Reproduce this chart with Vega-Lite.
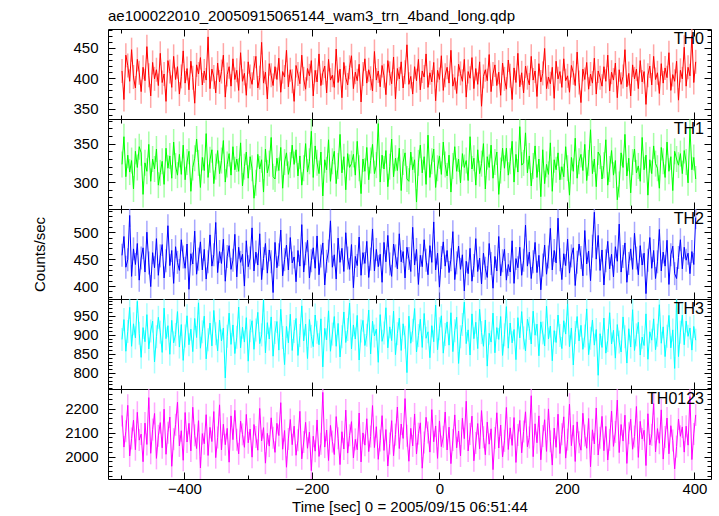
{
"$schema": "https://vega.github.io/schema/vega-lite/v6.json",
"padding": {"left": 32, "top": 8, "right": 9, "bottom": 2},
"spacing": 0,
"bounds": "flush",
"config": {
  "font": "Liberation Sans",
  "view": {"stroke": "black", "strokeWidth": 1},
  "axis": {"domain": false, "grid": false, "tickColor": "black", "tickWidth": 1, "labelColor": "black", "labelFontSize": 15, "labelFont": "Liberation Sans", "titleFont": "Liberation Sans", "titleFontSize": 15, "titleFontWeight": "normal", "titleColor": "black", "labelFlush": false, "labelOverlap": false, "format": "d"},
  "title": {"font": "Liberation Sans", "fontSize": 15, "fontWeight": "normal", "color": "black"}
},
"data": {"values": [
{"t":-498,"a":412,"b":323,"c":457,"d":888,"e":2172},
{"t":-495,"a":365,"b":359,"c":492,"d":940,"e":2040},
{"t":-492,"a":438,"b":307,"c":435,"d":857,"e":2106},
{"t":-489,"a":421,"b":335,"c":449,"d":909,"e":2214},
{"t":-486,"a":395,"b":313,"c":531,"d":972,"e":2003},
{"t":-483,"a":447,"b":328,"c":418,"d":870,"e":2076},
{"t":-480,"a":402,"b":291,"c":469,"d":929,"e":2152},
{"t":-477,"a":384,"b":340,"c":440,"d":892,"e":2029},
{"t":-474,"a":431,"b":319,"c":479,"d":988,"e":2185},
{"t":-471,"a":409,"b":346,"c":411,"d":904,"e":2069},
{"t":-468,"a":378,"b":338,"c":452,"d":841,"e":2094},
{"t":-465,"a":418,"b":284,"c":471,"d":919,"e":1979},
{"t":-462,"a":396,"b":325,"c":426,"d":882,"e":2140},
{"t":-459,"a":452,"b":314,"c":500,"d":953,"e":2051},
{"t":-456,"a":405,"b":349,"c":443,"d":863,"e":2246},
{"t":-453,"a":371,"b":301,"c":399,"d":910,"e":2014},
{"t":-450,"a":426,"b":330,"c":462,"d":936,"e":2113},
{"t":-447,"a":399,"b":317,"c":434,"d":829,"e":2180},
{"t":-444,"a":414,"b":343,"c":488,"d":895,"e":1993},
{"t":-441,"a":388,"b":296,"c":420,"d":946,"e":2087},
{"t":-438,"a":441,"b":312,"c":456,"d":907,"e":2142},
{"t":-435,"a":393,"b":327,"c":477,"d":854,"e":2037},
{"t":-432,"a":407,"b":297,"c":415,"d":970,"e":2198},
{"t":-429,"a":362,"b":344,"c":447,"d":890,"e":2010},
{"t":-426,"a":429,"b":318,"c":512,"d":924,"e":2100},
{"t":-423,"a":411,"b":334,"c":438,"d":849,"e":2165},
{"t":-420,"a":385,"b":305,"c":466,"d":938,"e":1960},
{"t":-417,"a":436,"b":352,"c":405,"d":879,"e":2073},
{"t":-414,"a":398,"b":321,"c":473,"d":901,"e":2133},
{"t":-411,"a":419,"b":309,"c":444,"d":961,"e":2227},
{"t":-408,"a":374,"b":336,"c":429,"d":868,"e":2045},
{"t":-405,"a":403,"b":310,"c":486,"d":927,"e":2108},
{"t":-402,"a":445,"b":348,"c":454,"d":833,"e":1985},
{"t":-399,"a":392,"b":303,"c":433,"d":897,"e":2184},
{"t":-396,"a":416,"b":326,"c":478,"d":950,"e":2061},
{"t":-393,"a":381,"b":340,"c":394,"d":874,"e":2139},
{"t":-390,"a":428,"b":288,"c":460,"d":915,"e":2024},
{"t":-387,"a":401,"b":319,"c":441,"d":856,"e":2206},
{"t":-384,"a":359,"b":331,"c":502,"d":943,"e":2089},
{"t":-381,"a":422,"b":356,"c":422,"d":893,"e":2034},
{"t":-378,"a":407,"b":325,"c":450,"d":984,"e":2150},
{"t":-375,"a":434,"b":293,"c":482,"d":865,"e":1953},
{"t":-372,"a":389,"b":332,"c":430,"d":908,"e":2096},
{"t":-369,"a":412,"b":315,"c":468,"d":949,"e":2054},
{"t":-366,"a":397,"b":363,"c":413,"d":837,"e":2175},
{"t":-363,"a":468,"b":306,"c":445,"d":887,"e":2005},
{"t":-360,"a":383,"b":329,"c":495,"d":931,"e":2122},
{"t":-357,"a":415,"b":342,"c":437,"d":871,"e":2063},
{"t":-354,"a":402,"b":298,"c":458,"d":964,"e":2188},
{"t":-351,"a":376,"b":320,"c":518,"d":903,"e":1996},
{"t":-348,"a":425,"b":341,"c":425,"d":858,"e":2080},
{"t":-345,"a":394,"b":311,"c":464,"d":939,"e":2216},
{"t":-342,"a":411,"b":328,"c":442,"d":884,"e":2028},
{"t":-339,"a":438,"b":354,"c":487,"d":918,"e":2135},
{"t":-336,"a":369,"b":300,"c":409,"d":787,"e":2050},
{"t":-333,"a":406,"b":323,"c":455,"d":896,"e":2118},
{"t":-330,"a":419,"b":337,"c":475,"d":957,"e":1977},
{"t":-327,"a":387,"b":309,"c":431,"d":875,"e":2170},
{"t":-324,"a":432,"b":346,"c":448,"d":926,"e":2071},
{"t":-321,"a":398,"b":316,"c":496,"d":851,"e":2193},
{"t":-318,"a":413,"b":330,"c":417,"d":894,"e":2071},
{"t":-315,"a":380,"b":314,"c":472,"d":973,"e":2012},
{"t":-312,"a":442,"b":351,"c":444,"d":866,"e":2148},
{"t":-309,"a":395,"b":295,"c":459,"d":920,"e":2093},
{"t":-306,"a":408,"b":320,"c":400,"d":881,"e":2039},
{"t":-303,"a":372,"b":339,"c":484,"d":945,"e":2176},
{"t":-300,"a":427,"b":305,"c":436,"d":831,"e":2058},
{"t":-297,"a":403,"b":333,"c":452,"d":911,"e":2115},
{"t":-294,"a":390,"b":318,"c":508,"d":937,"e":1998},
{"t":-291,"a":417,"b":279,"c":428,"d":862,"e":2134},
{"t":-288,"a":436,"b":299,"c":463,"d":913,"e":2082},
{"t":-285,"a":384,"b":336,"c":439,"d":959,"e":2027},
{"t":-282,"a":401,"b":317,"c":497,"d":877,"e":2201},
{"t":-279,"a":459,"b":329,"c":412,"d":900,"e":2066},
{"t":-276,"a":392,"b":287,"c":451,"d":991,"e":2121},
{"t":-273,"a":410,"b":343,"c":479,"d":853,"e":1973},
{"t":-270,"a":366,"b":312,"c":424,"d":932,"e":2097},
{"t":-267,"a":424,"b":324,"c":467,"d":889,"e":2044},
{"t":-264,"a":405,"b":358,"c":445,"d":947,"e":2162},
{"t":-261,"a":388,"b":307,"c":388,"d":844,"e":2079},
{"t":-258,"a":419,"b":304,"c":481,"d":906,"e":2018},
{"t":-255,"a":398,"b":331,"c":434,"d":935,"e":2139},
{"t":-252,"a":433,"b":315,"c":458,"d":860,"e":2088},
{"t":-249,"a":377,"b":345,"c":504,"d":967,"e":2225},
{"t":-246,"a":411,"b":292,"c":419,"d":893,"e":2031},
{"t":-243,"a":402,"b":326,"c":449,"d":822,"e":2109},
{"t":-240,"a":446,"b":338,"c":476,"d":922,"e":1956},
{"t":-237,"a":386,"b":310,"c":430,"d":879,"e":2074},
{"t":-234,"a":414,"b":322,"c":490,"d":954,"e":2155},
{"t":-231,"a":395,"b":348,"c":443,"d":859,"e":2050},
{"t":-228,"a":362,"b":323,"c":454,"d":909,"e":2127},
{"t":-225,"a":421,"b":342,"c":408,"d":943,"e":2006},
{"t":-222,"a":407,"b":308,"c":466,"d":846,"e":2068},
{"t":-219,"a":391,"b":334,"c":437,"d":898,"e":2189},
{"t":-216,"a":438,"b":296,"c":514,"d":976,"e":1991},
{"t":-213,"a":399,"b":318,"c":426,"d":884,"e":2061},
{"t":-210,"a":382,"b":350,"c":460,"d":928,"e":2143},
{"t":-207,"a":416,"b":313,"c":485,"d":838,"e":2035},
{"t":-204,"a":404,"b":327,"c":415,"d":940,"e":2102},
{"t":-201,"a":429,"b":366,"c":447,"d":896,"e":1942},
{"t":-198,"a":371,"b":306,"c":471,"d":869,"e":2085},
{"t":-195,"a":413,"b":347,"c":433,"d":952,"e":2023},
{"t":-192,"a":394,"b":325,"c":493,"d":907,"e":2153},
{"t":-189,"a":440,"b":311,"c":421,"d":874,"e":2001},
{"t":-186,"a":388,"b":339,"c":456,"d":942,"e":2054},
{"t":-183,"a":409,"b":282,"c":480,"d":816,"e":2268},
{"t":-180,"a":420,"b":329,"c":402,"d":917,"e":2040},
{"t":-177,"a":376,"b":316,"c":446,"d":887,"e":2111},
{"t":-174,"a":431,"b":355,"c":465,"d":963,"e":1984},
{"t":-171,"a":397,"b":301,"c":521,"d":857,"e":2130},
{"t":-168,"a":405,"b":327,"c":435,"d":902,"e":2063},
{"t":-165,"a":385,"b":340,"c":458,"d":948,"e":2009},
{"t":-162,"a":448,"b":298,"c":413,"d":870,"e":2167},
{"t":-159,"a":393,"b":321,"c":489,"d":930,"e":2077},
{"t":-156,"a":415,"b":362,"c":444,"d":842,"e":1967},
{"t":-153,"a":368,"b":312,"c":470,"d":895,"e":2104},
{"t":-150,"a":426,"b":333,"c":427,"d":960,"e":2032},
{"t":-147,"a":401,"b":290,"c":499,"d":880,"e":2194},
{"t":-144,"a":389,"b":337,"c":452,"d":914,"e":2015},
{"t":-141,"a":418,"b":319,"c":431,"d":983,"e":2089},
{"t":-138,"a":437,"b":324,"c":477,"d":863,"e":2146},
{"t":-135,"a":383,"b":336,"c":397,"d":926,"e":1995},
{"t":-132,"a":410,"b":309,"c":455,"d":889,"e":2072},
{"t":-129,"a":396,"b":353,"c":438,"d":951,"e":2029},
{"t":-126,"a":423,"b":318,"c":491,"d":834,"e":2182},
{"t":-123,"a":361,"b":285,"c":420,"d":910,"e":1978},
{"t":-120,"a":407,"b":330,"c":462,"d":938,"e":2099},
{"t":-117,"a":432,"b":314,"c":442,"d":872,"e":2048},
{"t":-114,"a":392,"b":345,"c":483,"d":899,"e":2158},
{"t":-111,"a":414,"b":303,"c":416,"d":965,"e":2021},
{"t":-108,"a":400,"b":328,"c":450,"d":850,"e":2084},
{"t":-105,"a":379,"b":349,"c":506,"d":936,"e":2213},
{"t":-102,"a":444,"b":311,"c":428,"d":897,"e":2038},
{"t":-99,"a":397,"b":322,"c":468,"d":915,"e":2125},
{"t":-96,"a":412,"b":376,"c":436,"d":828,"e":1989},
{"t":-93,"a":386,"b":300,"c":459,"d":953,"e":2067},
{"t":-90,"a":421,"b":335,"c":407,"d":883,"e":2171},
{"t":-87,"a":404,"b":317,"c":481,"d":905,"e":2026},
{"t":-84,"a":373,"b":341,"c":445,"d":971,"e":2113},
{"t":-81,"a":429,"b":294,"c":494,"d":866,"e":1961},
{"t":-78,"a":408,"b":320,"c":441,"d":921,"e":2055},
{"t":-75,"a":391,"b":356,"c":418,"d":885,"e":2150},
{"t":-72,"a":435,"b":307,"c":478,"d":962,"e":2004},
{"t":-69,"a":366,"b":331,"c":456,"d":848,"e":2092},
{"t":-66,"a":416,"b":315,"c":432,"d":903,"e":2207},
{"t":-63,"a":399,"b":344,"c":497,"d":944,"e":2034},
{"t":-60,"a":427,"b":289,"c":445,"d":859,"e":2136},
{"t":-57,"a":384,"b":326,"c":464,"d":929,"e":2076},
{"t":-54,"a":410,"b":338,"c":415,"d":894,"e":2242},
{"t":-51,"a":455,"b":304,"c":472,"d":801,"e":2087},
{"t":-48,"a":390,"b":301,"c":451,"d":949,"e":1981},
{"t":-45,"a":403,"b":339,"c":427,"d":878,"e":2118},
{"t":-42,"a":374,"b":316,"c":509,"d":912,"e":2045},
{"t":-39,"a":419,"b":329,"c":439,"d":969,"e":2178},
{"t":-36,"a":396,"b":274,"c":468,"d":855,"e":2011},
{"t":-33,"a":431,"b":325,"c":403,"d":898,"e":2096},
{"t":-30,"a":381,"b":348,"c":457,"d":941,"e":2141},
{"t":-27,"a":412,"b":312,"c":436,"d":867,"e":1952},
{"t":-24,"a":402,"b":333,"c":486,"d":956,"e":2059},
{"t":-21,"a":440,"b":297,"c":448,"d":891,"e":2164},
{"t":-18,"a":385,"b":361,"c":421,"d":908,"e":2101},
{"t":-15,"a":409,"b":306,"c":475,"d":840,"e":2019},
{"t":-12,"a":394,"b":327,"c":444,"d":924,"e":2196},
{"t":-9,"a":426,"b":343,"c":519,"d":882,"e":2062},
{"t":-6,"a":363,"b":293,"c":430,"d":978,"e":2128},
{"t":-3,"a":413,"b":318,"c":461,"d":861,"e":1993},
{"t":0,"a":398,"b":334,"c":398,"d":916,"e":2149},
{"t":3,"a":437,"b":310,"c":453,"d":950,"e":2042},
{"t":6,"a":380,"b":352,"c":482,"d":852,"e":2083},
{"t":9,"a":405,"b":323,"c":437,"d":901,"e":2186},
{"t":12,"a":418,"b":308,"c":466,"d":934,"e":2028},
{"t":15,"a":392,"b":335,"c":425,"d":873,"e":2123},
{"t":18,"a":446,"b":287,"c":449,"d":958,"e":1971},
{"t":21,"a":387,"b":321,"c":501,"d":856,"e":2069},
{"t":24,"a":401,"b":346,"c":412,"d":911,"e":2174},
{"t":27,"a":375,"b":314,"c":443,"d":946,"e":2037},
{"t":30,"a":423,"b":330,"c":474,"d":825,"e":2107},
{"t":33,"a":408,"b":299,"c":431,"d":895,"e":2003},
{"t":36,"a":395,"b":337,"c":458,"d":927,"e":2160},
{"t":39,"a":431,"b":319,"c":391,"d":986,"e":2075},
{"t":42,"a":369,"b":328,"c":446,"d":877,"e":2231},
{"t":45,"a":411,"b":302,"c":423,"d":913,"e":2024},
{"t":48,"a":400,"b":359,"c":470,"d":847,"e":2094},
{"t":51,"a":434,"b":317,"c":409,"d":955,"e":2169},
{"t":54,"a":383,"b":331,"c":438,"d":890,"e":1983},
{"t":57,"a":416,"b":296,"c":488,"d":933,"e":2057},
{"t":60,"a":390,"b":342,"c":427,"d":864,"e":2138},
{"t":63,"a":427,"b":311,"c":452,"d":967,"e":2033},
{"t":66,"a":354,"b":324,"c":404,"d":906,"e":2192},
{"t":69,"a":403,"b":350,"c":461,"d":870,"e":2081},
{"t":72,"a":414,"b":291,"c":433,"d":939,"e":2008},
{"t":75,"a":396,"b":333,"c":416,"d":818,"e":2144},
{"t":78,"a":439,"b":319,"c":479,"d":904,"e":2052},
{"t":81,"a":378,"b":348,"c":442,"d":881,"e":2116},
{"t":84,"a":407,"b":305,"c":396,"d":957,"e":1946},
{"t":87,"a":422,"b":326,"c":455,"d":853,"e":2078},
{"t":90,"a":388,"b":339,"c":428,"d":919,"e":2183},
{"t":93,"a":410,"b":284,"c":492,"d":888,"e":2036},
{"t":96,"a":372,"b":315,"c":419,"d":948,"e":2132},
{"t":99,"a":425,"b":344,"c":447,"d":846,"e":1999},
{"t":102,"a":399,"b":318,"c":468,"d":900,"e":2066},
{"t":105,"a":382,"b":344,"c":411,"d":974,"e":2205},
{"t":108,"a":430,"b":309,"c":440,"d":865,"e":2030},
{"t":111,"a":404,"b":327,"c":426,"d":931,"e":2120},
{"t":114,"a":365,"b":353,"c":484,"d":879,"e":2047},
{"t":117,"a":417,"b":300,"c":405,"d":914,"e":2163},
{"t":120,"a":393,"b":336,"c":451,"d":835,"e":1976},
{"t":123,"a":441,"b":313,"c":434,"d":945,"e":2090},
{"t":126,"a":386,"b":372,"c":472,"d":892,"e":2151},
{"t":129,"a":409,"b":322,"c":420,"d":961,"e":2016},
{"t":132,"a":376,"b":325,"c":448,"d":892,"e":2105},
{"t":135,"a":420,"b":364,"c":513,"d":858,"e":2187},
{"t":138,"a":401,"b":312,"c":437,"d":941,"e":2041},
{"t":141,"a":389,"b":334,"c":463,"d":917,"e":2080},
{"t":144,"a":436,"b":295,"c":414,"d":876,"e":2254},
{"t":147,"a":397,"b":321,"c":445,"d":962,"e":2000},
{"t":150,"a":412,"b":347,"c":481,"d":899,"e":2137},
{"t":153,"a":370,"b":306,"c":425,"d":928,"e":2058},
{"t":156,"a":424,"b":330,"c":457,"d":845,"e":2170},
{"t":159,"a":394,"b":281,"c":393,"d":934,"e":1987},
{"t":162,"a":408,"b":342,"c":439,"d":905,"e":2086},
{"t":165,"a":449,"b":298,"c":476,"d":871,"e":2154},
{"t":168,"a":383,"b":323,"c":422,"d":975,"e":2022},
{"t":171,"a":402,"b":310,"c":454,"d":889,"e":2199},
{"t":174,"a":391,"b":351,"c":507,"d":923,"e":2064},
{"t":177,"a":418,"b":288,"c":430,"d":832,"e":1965},
{"t":180,"a":367,"b":329,"c":466,"d":911,"e":2119},
{"t":183,"a":428,"b":316,"c":443,"d":880,"e":2039},
{"t":186,"a":399,"b":338,"c":526,"d":952,"e":2177},
{"t":189,"a":411,"b":303,"c":449,"d":898,"e":2013},
{"t":192,"a":385,"b":320,"c":412,"d":864,"e":2093},
{"t":195,"a":432,"b":307,"c":460,"d":937,"e":2166},
{"t":198,"a":396,"b":346,"c":438,"d":902,"e":1994},
{"t":201,"a":404,"b":318,"c":487,"d":981,"e":2071},
{"t":204,"a":377,"b":283,"c":424,"d":869,"e":2219},
{"t":207,"a":421,"b":332,"c":456,"d":918,"e":2046},
{"t":210,"a":409,"b":314,"c":471,"d":821,"e":2131},
{"t":213,"a":388,"b":357,"c":401,"d":906,"e":1980},
{"t":216,"a":443,"b":305,"c":444,"d":948,"e":2145},
{"t":219,"a":393,"b":327,"c":478,"d":884,"e":2060},
{"t":222,"a":360,"b":336,"c":453,"d":925,"e":2027},
{"t":225,"a":415,"b":315,"c":419,"d":862,"e":2181},
{"t":228,"a":398,"b":349,"c":503,"d":897,"e":2088},
{"t":231,"a":426,"b":302,"c":441,"d":968,"e":2035},
{"t":234,"a":382,"b":325,"c":465,"d":848,"e":2159},
{"t":237,"a":407,"b":368,"c":410,"d":891,"e":1958},
{"t":240,"a":392,"b":311,"c":474,"d":939,"e":2112},
{"t":243,"a":433,"b":330,"c":537,"d":873,"e":2053},
{"t":246,"a":374,"b":294,"c":450,"d":914,"e":2203},
{"t":249,"a":412,"b":339,"c":494,"d":794,"e":2007},
{"t":252,"a":401,"b":334,"c":429,"d":903,"e":2079},
{"t":255,"a":387,"b":304,"c":467,"d":867,"e":2168},
{"t":258,"a":419,"b":322,"c":402,"d":944,"e":2025},
{"t":261,"a":395,"b":355,"c":447,"d":852,"e":2126},
{"t":264,"a":438,"b":296,"c":483,"d":885,"e":1986},
{"t":267,"a":379,"b":317,"c":432,"d":958,"e":2070},
{"t":270,"a":410,"b":341,"c":459,"d":876,"e":2190},
{"t":273,"a":397,"b":309,"c":417,"d":912,"e":2043},
{"t":276,"a":425,"b":328,"c":473,"d":839,"e":2103},
{"t":279,"a":368,"b":277,"c":446,"d":927,"e":2236},
{"t":282,"a":414,"b":297,"c":515,"d":881,"e":2017},
{"t":285,"a":390,"b":338,"c":426,"d":855,"e":2134},
{"t":288,"a":403,"b":319,"c":455,"d":947,"e":2065},
{"t":291,"a":447,"b":362,"c":480,"d":895,"e":2173},
{"t":294,"a":386,"b":308,"c":407,"d":826,"e":1972},
{"t":297,"a":408,"b":331,"c":442,"d":916,"e":2098},
{"t":300,"a":371,"b":286,"c":469,"d":868,"e":2156},
{"t":303,"a":422,"b":326,"c":431,"d":966,"e":2031},
{"t":306,"a":399,"b":343,"c":498,"d":859,"e":2084},
{"t":309,"a":415,"b":312,"c":452,"d":900,"e":2209},
{"t":312,"a":383,"b":321,"c":421,"d":933,"e":1997},
{"t":315,"a":429,"b":301,"c":475,"d":847,"e":2147},
{"t":318,"a":394,"b":358,"c":439,"d":894,"e":2074},
{"t":321,"a":411,"b":316,"c":461,"d":872,"e":2110},
{"t":324,"a":357,"b":335,"c":386,"d":955,"e":1963},
{"t":327,"a":405,"b":283,"c":448,"d":836,"e":2179},
{"t":330,"a":420,"b":329,"c":490,"d":908,"e":2049},
{"t":333,"a":389,"b":311,"c":433,"d":886,"e":2091},
{"t":336,"a":436,"b":347,"c":466,"d":942,"e":2221},
{"t":339,"a":398,"b":324,"c":414,"d":861,"e":2020},
{"t":342,"a":409,"b":318,"c":445,"d":899,"e":2117},
{"t":345,"a":375,"b":292,"c":505,"d":979,"e":2056},
{"t":348,"a":424,"b":345,"c":428,"d":878,"e":2195},
{"t":351,"a":392,"b":327,"c":463,"d":921,"e":1990},
{"t":354,"a":417,"b":306,"c":437,"d":843,"e":2082},
{"t":357,"a":401,"b":352,"c":485,"d":896,"e":2161},
{"t":360,"a":442,"b":314,"c":403,"d":951,"e":2012},
{"t":363,"a":380,"b":333,"c":458,"d":866,"e":2129},
{"t":366,"a":406,"b":289,"c":474,"d":913,"e":2067},
{"t":369,"a":395,"b":340,"c":423,"d":812,"e":1949},
{"t":372,"a":428,"b":330,"c":414,"d":990,"e":2042},
{"t":375,"a":364,"b":322,"c":453,"d":843,"e":2157},
{"t":378,"a":413,"b":337,"c":486,"d":907,"e":2085},
{"t":381,"a":399,"b":311,"c":432,"d":952,"e":2124},
{"t":384,"a":451,"b":341,"c":472,"d":874,"e":2019},
{"t":387,"a":387,"b":326,"c":448,"d":936,"e":2127},
{"t":390,"a":418,"b":299,"c":461,"d":896,"e":2048},
{"t":393,"a":404,"b":370,"c":423,"d":918,"e":2250},
{"t":396,"a":470,"b":316,"c":464,"d":860,"e":1988},
{"t":399,"a":393,"b":332,"c":440,"d":922,"e":2095},
{"t":402,"a":427,"b":304,"c":527,"d":886,"e":2174}
]},
"vconcat": [
{
 "width": 603, "height": 90,
 "title": {"text": "ae100022010_20050915065144_wam3_trn_4band_long.qdp", "anchor": "start", "frame": "group", "offset": 5},
 "resolve": {"axis": {"x": "independent", "y": "independent"}},
 "layer": [
  {"mark": {"type": "tick", "orient": "vertical", "size": 24, "thickness": 1.5, "color": "#ff8080", "clip": true},
   "encoding": {
    "x": {"field": "t", "type": "quantitative", "scale": {"domain": [-520, 426], "nice": false, "zero": false}, "axis": {"orient": "bottom", "values": [-400, -200, 0, 200, 400], "tickSize": -7, "labels": false, "title": null}},
    "y": {"field": "a", "type": "quantitative", "scale": {"domain": [333, 481], "nice": false, "zero": false}, "axis": {"orient": "left", "values": [350, 400, 450], "tickSize": -7, "labelPadding": 17, "title": null}}}},
  {"mark": {"type": "line", "color": "#ff0000", "strokeWidth": 1, "clip": true},
   "encoding": {"x": {"field": "t", "type": "quantitative", "axis": null}, "y": {"field": "a", "type": "quantitative", "axis": null}}},
  {"mark": {"type": "point", "opacity": 0},
   "encoding": {
    "x": {"field": "t", "type": "quantitative", "axis": {"orient": "top", "values": [-400, -200, 0, 200, 400], "tickSize": -7, "labels": false, "title": null}},
    "y": {"field": "a", "type": "quantitative", "axis": {"orient": "right", "values": [350, 400, 450], "tickSize": -7, "labels": false, "title": null}}}},
  {"mark": {"type": "point", "opacity": 0},
   "encoding": {
    "x": {"field": "t", "type": "quantitative", "axis": {"orient": "bottom", "values": [-500, -300, -100, 100, 300], "tickSize": -4, "labels": false, "title": null}},
    "y": {"field": "a", "type": "quantitative", "axis": {"orient": "left", "values": [340, 360, 370, 380, 390, 410, 420, 430, 440, 460, 470, 480], "tickSize": -4, "labels": false, "title": null}}}},
  {"mark": {"type": "point", "opacity": 0},
   "encoding": {
    "x": {"field": "t", "type": "quantitative", "axis": {"orient": "top", "values": [-500, -300, -100, 100, 300], "tickSize": -4, "labels": false, "title": null}},
    "y": {"field": "a", "type": "quantitative", "axis": {"orient": "right", "values": [340, 360, 370, 380, 390, 410, 420, 430, 440, 460, 470, 480], "tickSize": -4, "labels": false, "title": null}}}},
  {"data": {"values": [{"band": "TH0"}]},
   "mark": {"type": "text", "align": "right", "baseline": "alphabetic", "fontSize": 16, "dx": -7, "dy": 15, "color": "black"},
   "encoding": {"x": {"datum": 426, "type": "quantitative", "axis": null}, "y": {"datum": 481, "type": "quantitative", "axis": null}, "text": {"field": "band"}}}
 ]
},
{
 "width": 603, "height": 90,
 "resolve": {"axis": {"x": "independent", "y": "independent"}},
 "layer": [
  {"mark": {"type": "tick", "orient": "vertical", "size": 26, "thickness": 1.5, "color": "#80ff80", "clip": true},
   "encoding": {
    "x": {"field": "t", "type": "quantitative", "scale": {"domain": [-520, 426], "nice": false, "zero": false}, "axis": {"orient": "bottom", "values": [-400, -200, 0, 200, 400], "tickSize": -7, "labels": false, "title": null}},
    "y": {"field": "b", "type": "quantitative", "scale": {"domain": [265, 382], "nice": false, "zero": false}, "axis": {"orient": "left", "values": [300, 350], "tickSize": -7, "labelPadding": 17, "title": null}}}},
  {"mark": {"type": "line", "color": "#00ff00", "strokeWidth": 1, "clip": true},
   "encoding": {"x": {"field": "t", "type": "quantitative", "axis": null}, "y": {"field": "b", "type": "quantitative", "axis": null}}},
  {"mark": {"type": "point", "opacity": 0},
   "encoding": {
    "x": {"field": "t", "type": "quantitative", "axis": {"orient": "top", "values": [-400, -200, 0, 200, 400], "tickSize": -7, "labels": false, "title": null}},
    "y": {"field": "b", "type": "quantitative", "axis": {"orient": "right", "values": [300, 350], "tickSize": -7, "labels": false, "title": null}}}},
  {"mark": {"type": "point", "opacity": 0},
   "encoding": {
    "x": {"field": "t", "type": "quantitative", "axis": {"orient": "bottom", "values": [-500, -300, -100, 100, 300], "tickSize": -4, "labels": false, "title": null}},
    "y": {"field": "b", "type": "quantitative", "axis": {"orient": "left", "values": [270, 280, 290, 310, 320, 330, 340, 360, 370, 380], "tickSize": -4, "labels": false, "title": null}}}},
  {"mark": {"type": "point", "opacity": 0},
   "encoding": {
    "x": {"field": "t", "type": "quantitative", "axis": {"orient": "top", "values": [-500, -300, -100, 100, 300], "tickSize": -4, "labels": false, "title": null}},
    "y": {"field": "b", "type": "quantitative", "axis": {"orient": "right", "values": [270, 280, 290, 310, 320, 330, 340, 360, 370, 380], "tickSize": -4, "labels": false, "title": null}}}},
  {"data": {"values": [{"band": "TH1"}]},
   "mark": {"type": "text", "align": "right", "baseline": "alphabetic", "fontSize": 16, "dx": -7, "dy": 15, "color": "black"},
   "encoding": {"x": {"datum": 426, "type": "quantitative", "axis": null}, "y": {"datum": 382, "type": "quantitative", "axis": null}, "text": {"field": "band"}}}
 ]
},
{
 "width": 603, "height": 90,
 "resolve": {"axis": {"x": "independent", "y": "independent"}},
 "layer": [
  {"mark": {"type": "tick", "orient": "vertical", "size": 23, "thickness": 1.5, "color": "#8080ff", "clip": true},
   "encoding": {
    "x": {"field": "t", "type": "quantitative", "scale": {"domain": [-520, 426], "nice": false, "zero": false}, "axis": {"orient": "bottom", "values": [-400, -200, 0, 200, 400], "tickSize": -7, "labels": false, "title": null}},
    "y": {"field": "c", "type": "quantitative", "scale": {"domain": [376, 543], "nice": false, "zero": false}, "axis": {"orient": "left", "values": [400, 450, 500], "tickSize": -7, "labelPadding": 17, "title": "Counts/sec", "titlePadding": 25}}}},
  {"mark": {"type": "line", "color": "#0000ff", "strokeWidth": 1, "clip": true},
   "encoding": {"x": {"field": "t", "type": "quantitative", "axis": null}, "y": {"field": "c", "type": "quantitative", "axis": null}}},
  {"mark": {"type": "point", "opacity": 0},
   "encoding": {
    "x": {"field": "t", "type": "quantitative", "axis": {"orient": "top", "values": [-400, -200, 0, 200, 400], "tickSize": -7, "labels": false, "title": null}},
    "y": {"field": "c", "type": "quantitative", "axis": {"orient": "right", "values": [400, 450, 500], "tickSize": -7, "labels": false, "title": null}}}},
  {"mark": {"type": "point", "opacity": 0},
   "encoding": {
    "x": {"field": "t", "type": "quantitative", "axis": {"orient": "bottom", "values": [-500, -300, -100, 100, 300], "tickSize": -4, "labels": false, "title": null}},
    "y": {"field": "c", "type": "quantitative", "axis": {"orient": "left", "values": [380, 390, 410, 420, 430, 440, 460, 470, 480, 490, 510, 520, 530, 540], "tickSize": -4, "labels": false, "title": null}}}},
  {"mark": {"type": "point", "opacity": 0},
   "encoding": {
    "x": {"field": "t", "type": "quantitative", "axis": {"orient": "top", "values": [-500, -300, -100, 100, 300], "tickSize": -4, "labels": false, "title": null}},
    "y": {"field": "c", "type": "quantitative", "axis": {"orient": "right", "values": [380, 390, 410, 420, 430, 440, 460, 470, 480, 490, 510, 520, 530, 540], "tickSize": -4, "labels": false, "title": null}}}},
  {"data": {"values": [{"band": "TH2"}]},
   "mark": {"type": "text", "align": "right", "baseline": "alphabetic", "fontSize": 16, "dx": -7, "dy": 15, "color": "black"},
   "encoding": {"x": {"datum": 426, "type": "quantitative", "axis": null}, "y": {"datum": 543, "type": "quantitative", "axis": null}, "text": {"field": "band"}}}
 ]
},
{
 "width": 603, "height": 90,
 "resolve": {"axis": {"x": "independent", "y": "independent"}},
 "layer": [
  {"mark": {"type": "tick", "orient": "vertical", "size": 23, "thickness": 1.5, "color": "#80ffff", "clip": true},
   "encoding": {
    "x": {"field": "t", "type": "quantitative", "scale": {"domain": [-520, 426], "nice": false, "zero": false}, "axis": {"orient": "bottom", "values": [-400, -200, 0, 200, 400], "tickSize": -7, "labels": false, "title": null}},
    "y": {"field": "d", "type": "quantitative", "scale": {"domain": [758, 994], "nice": false, "zero": false}, "axis": {"orient": "left", "values": [800, 850, 900, 950], "tickSize": -7, "labelPadding": 17, "title": null}}}},
  {"mark": {"type": "line", "color": "#00ffff", "strokeWidth": 1, "clip": true},
   "encoding": {"x": {"field": "t", "type": "quantitative", "axis": null}, "y": {"field": "d", "type": "quantitative", "axis": null}}},
  {"mark": {"type": "point", "opacity": 0},
   "encoding": {
    "x": {"field": "t", "type": "quantitative", "axis": {"orient": "top", "values": [-400, -200, 0, 200, 400], "tickSize": -7, "labels": false, "title": null}},
    "y": {"field": "d", "type": "quantitative", "axis": {"orient": "right", "values": [800, 850, 900, 950], "tickSize": -7, "labels": false, "title": null}}}},
  {"mark": {"type": "point", "opacity": 0},
   "encoding": {
    "x": {"field": "t", "type": "quantitative", "axis": {"orient": "bottom", "values": [-500, -300, -100, 100, 300], "tickSize": -4, "labels": false, "title": null}},
    "y": {"field": "d", "type": "quantitative", "axis": {"orient": "left", "values": [760, 770, 780, 790, 810, 820, 830, 840, 860, 870, 880, 890, 910, 920, 930, 940, 960, 970, 980, 990], "tickSize": -4, "labels": false, "title": null}}}},
  {"mark": {"type": "point", "opacity": 0},
   "encoding": {
    "x": {"field": "t", "type": "quantitative", "axis": {"orient": "top", "values": [-500, -300, -100, 100, 300], "tickSize": -4, "labels": false, "title": null}},
    "y": {"field": "d", "type": "quantitative", "axis": {"orient": "right", "values": [760, 770, 780, 790, 810, 820, 830, 840, 860, 870, 880, 890, 910, 920, 930, 940, 960, 970, 980, 990], "tickSize": -4, "labels": false, "title": null}}}},
  {"data": {"values": [{"band": "TH3"}]},
   "mark": {"type": "text", "align": "right", "baseline": "alphabetic", "fontSize": 16, "dx": -7, "dy": 15, "color": "black"},
   "encoding": {"x": {"datum": 426, "type": "quantitative", "axis": null}, "y": {"datum": 994, "type": "quantitative", "axis": null}, "text": {"field": "band"}}}
 ]
},
{
 "width": 603, "height": 90,
 "resolve": {"axis": {"x": "independent", "y": "independent"}},
 "layer": [
  {"mark": {"type": "tick", "orient": "vertical", "size": 22, "thickness": 1.5, "color": "#ff80ff", "clip": true},
   "encoding": {
    "x": {"field": "t", "type": "quantitative", "scale": {"domain": [-520, 426], "nice": false, "zero": false}, "axis": {"orient": "bottom", "values": [-400, -200, 0, 200, 400], "tickSize": -7, "labelPadding": 9, "title": "Time [sec] 0 = 2005/09/15 06:51:44", "titlePadding": 3}},
    "y": {"field": "e", "type": "quantitative", "scale": {"domain": [1907, 2282], "nice": false, "zero": false}, "axis": {"orient": "left", "values": [2000, 2100, 2200], "tickSize": -7, "labelPadding": 17, "title": null}}}},
  {"mark": {"type": "line", "color": "#ff00ff", "strokeWidth": 1, "clip": true},
   "encoding": {"x": {"field": "t", "type": "quantitative", "axis": null}, "y": {"field": "e", "type": "quantitative", "axis": null}}},
  {"mark": {"type": "point", "opacity": 0},
   "encoding": {
    "x": {"field": "t", "type": "quantitative", "axis": {"orient": "top", "values": [-400, -200, 0, 200, 400], "tickSize": -7, "labels": false, "title": null}},
    "y": {"field": "e", "type": "quantitative", "axis": {"orient": "right", "values": [2000, 2100, 2200], "tickSize": -7, "labels": false, "title": null}}}},
  {"mark": {"type": "point", "opacity": 0},
   "encoding": {
    "x": {"field": "t", "type": "quantitative", "axis": {"orient": "bottom", "values": [-500, -300, -100, 100, 300], "tickSize": -4, "labels": false, "title": null}},
    "y": {"field": "e", "type": "quantitative", "axis": {"orient": "left", "values": [1920, 1940, 1960, 1980, 2020, 2040, 2060, 2080, 2120, 2140, 2160, 2180, 2220, 2240, 2260, 2280], "tickSize": -4, "labels": false, "title": null}}}},
  {"mark": {"type": "point", "opacity": 0},
   "encoding": {
    "x": {"field": "t", "type": "quantitative", "axis": {"orient": "top", "values": [-500, -300, -100, 100, 300], "tickSize": -4, "labels": false, "title": null}},
    "y": {"field": "e", "type": "quantitative", "axis": {"orient": "right", "values": [1920, 1940, 1960, 1980, 2020, 2040, 2060, 2080, 2120, 2140, 2160, 2180, 2220, 2240, 2260, 2280], "tickSize": -4, "labels": false, "title": null}}}},
  {"data": {"values": [{"band": "TH0123"}]},
   "mark": {"type": "text", "align": "right", "baseline": "alphabetic", "fontSize": 16, "dx": -7, "dy": 15, "color": "black"},
   "encoding": {"x": {"datum": 426, "type": "quantitative", "axis": null}, "y": {"datum": 2282, "type": "quantitative", "axis": null}, "text": {"field": "band"}}}
 ]
}
]
}
